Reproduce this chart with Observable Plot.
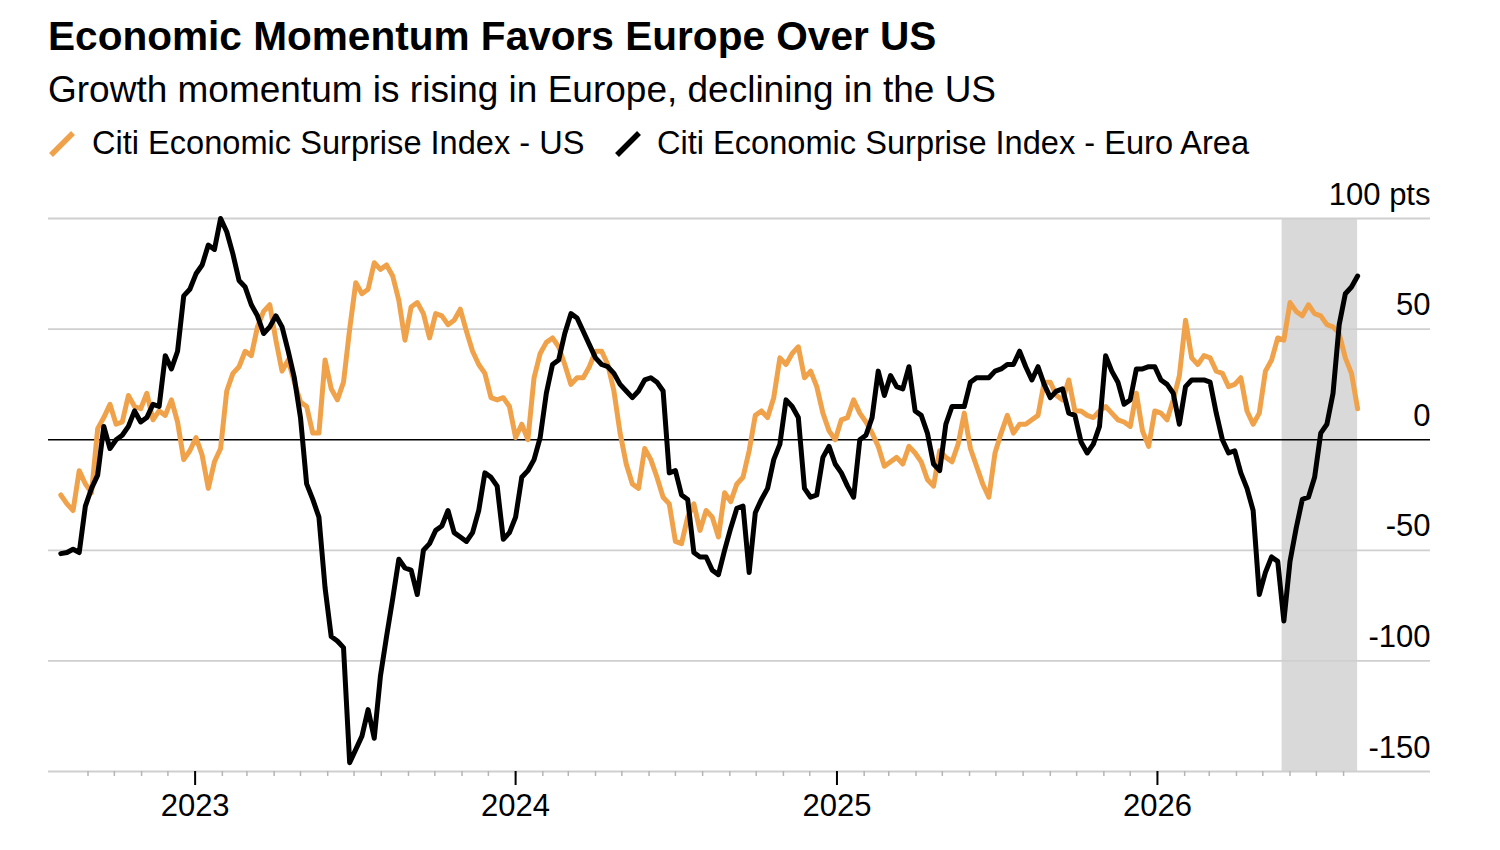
<!DOCTYPE html>
<html><head><meta charset="utf-8">
<script src="https://cdn.jsdelivr.net/npm/d3@7"></script>
<script src="https://cdn.jsdelivr.net/npm/@observablehq/plot@0.6"></script>
<style>
html,body{margin:0;padding:0;background:#fff;}
body{width:1500px;height:850px;position:relative;overflow:hidden;font-family:"Liberation Sans",Arial,Helvetica,sans-serif;color:#000;}
#title{position:absolute;left:48px;top:16px;font-size:40.6px;line-height:40px;font-weight:700;white-space:nowrap;}
#subtitle{position:absolute;left:48px;top:71px;font-size:37px;line-height:37px;white-space:nowrap;}
.leg{position:absolute;top:127px;font-size:32.6px;line-height:32.5px;white-space:nowrap;}
.sw{position:absolute;top:130px;}
#chart{position:absolute;left:0;top:170px;}
</style></head><body>
<div id="title">Economic Momentum Favors Europe Over US</div>
<div id="subtitle">Growth momentum is rising in Europe, declining in the US</div>
<svg class="sw" style="left:48px" width="28" height="28"><line x1="3" y1="25" x2="25" y2="3" stroke="#F0A24A" stroke-width="5.5"/></svg>
<div class="leg" style="left:92px">Citi Economic Surprise Index - US</div>
<svg class="sw" style="left:614px" width="28" height="28"><line x1="3" y1="25" x2="25" y2="3" stroke="#000" stroke-width="5.5"/></svg>
<div class="leg" style="left:657px">Citi Economic Surprise Index - Euro Area</div>
<div id="chart"></div>
<script>
// Weekly observations starting 2022-08-01
const startDate = "2022-08-01";
const usValues = [
 -25, -29, -32, -14, -20, -24, 5, 10, 16, 7,
 8, 20, 15, 14, 21, 9, 13, 11, 18, 8,
 -9, -5, 1, -7, -22, -10, -4, 22, 30, 33,
 40, 38, 51, 58, 61, 45, 31, 36, 26, 17,
 15, 3, 3, 36, 23, 18, 26, 50, 71, 66,
 68, 80, 77, 79, 74, 63, 45, 60, 62, 57,
 46, 57, 56, 52, 54, 59, 49, 40, 34, 30,
 19, 18, 19, 15, 1, 7, 0, 28, 39, 44,
 46, 42, 34, 25, 28, 28, 33, 40, 40, 34,
 22, 3, -11, -20, -22, -4, -9, -17, -26, -29,
 -46, -47, -35, -29, -41, -32, -35, -44, -24, -28,
 -20, -17, -5, 11, 13, 10, 19, 37, 34, 39,
 42, 28, 31, 24, 12, 4, 0, 9, 10, 18,
 12, 8, 3, -3, -12, -10, -8, -11, -3, -6,
 -10, -18, -21, -5, -8, -10, -2, 12, -4, -12,
 -20, -26, -6, 3, 11, 3, 7, 7, 9, 11,
 26, 26, 20, 18, 27, 13, 13, 11, 10, 13,
 15, 12, 9, 8, 6, 21, 4, -3, 13, 12,
 9, 18, 29, 54, 37, 34, 38, 37, 31, 30,
 24, 25, 28, 13, 7, 12, 31, 36, 46, 45,
 62, 58, 56, 61, 57, 56, 52, 51, 48, 37,
 30, 14
];
const euroValues = [
 -51.5, -51, -49.5, -51, -30, -22, -16, 6, -4, 0,
 2, 6, 13, 8, 10, 16, 15, 38, 32, 40,
 65, 68, 75, 79, 88, 86, 100, 94, 84, 72,
 69, 61, 56, 48, 51, 56, 51, 40, 28, 10,
 -20, -27, -35, -67, -89, -91, -94, -146, -140, -134,
 -122, -135, -107, -89, -72, -54, -58, -59, -70, -50,
 -47, -41, -39, -32, -42, -44, -46, -42, -32, -15,
 -17, -21, -45, -42, -35, -17, -14, -9, 1, 21,
 34, 36, 48, 57, 55, 49, 43, 37, 34, 33,
 30, 25, 22, 19, 22, 27, 28, 26, 22, -15,
 -14, -25, -27, -51, -53, -53, -59, -61, -50, -40,
 -31, -30, -60, -33, -27, -22, -9, -2, 18, 15,
 10, -22, -26, -25, -8, -3, -11, -15, -21, -26,
 0, 2, 10, 31, 20, 29, 24, 23, 33, 13,
 11, 3, -11, -14, 7, 15, 15, 15, 26, 28,
 28, 28, 31, 32, 34, 34, 40, 33, 27, 33,
 25, 19, 22, 23, 12, 11, -1, -6, -2, 6,
 38, 31, 26, 16, 18, 32, 32, 33, 33, 27,
 25, 21, 7, 24, 27, 27, 27, 26, 12, 0,
 -6, -5, -15, -22, -32, -70, -60, -53, -55, -82,
 -55, -40, -27, -26, -17, 3, 7, 21, 52, 66,
 69, 74
];
const yTicks = [-150, -100, -50, 0, 50, 100];
const yLabels = ["-150", "-100", "-50", "0", "50", "100 pts"];
const yearTicks = ["2023-01-01", "2024-01-01", "2025-01-01", "2026-01-01"];
const xDomain = ["2022-07-18", "2026-11-08"];
const shadeRange = ["2026-05-23", "2026-08-17"];
const minorTickRange = ["2022-09-01", "2026-09-01"];

const t0 = new Date(startDate + "T00:00:00Z");
const dates = usValues.map((_, i) => d3.utcDay.offset(t0, 7 * i));
const us = usValues.map((v, i) => ({date: dates[i], value: v}));
const euro = euroValues.map((v, i) => ({date: dates[i], value: v}));
const toDate = s => new Date(s + "T00:00:00Z");
const monthTicks = d3.utcMonth.range(toDate(minorTickRange[0]), toDate(minorTickRange[1]));
const shade = [{x1: toDate(shadeRange[0]), x2: toDate(shadeRange[1])}];

const chart = Plot.plot({
  width: 1500, height: 660,
  marginLeft: 48, marginRight: 70, marginTop: 48, marginBottom: 59,
  style: {fontFamily: "'Liberation Sans', Arial, sans-serif", fontSize: "31px", background: "transparent", color: "#000"},
  x: {type: "utc", domain: xDomain.map(toDate)},
  y: {domain: [-150, 100], axis: null},
  marks: [
    Plot.rect(shade, {x1: "x1", x2: "x2", y1: () => -150, y2: () => 100, fill: "#d9d9d9"}),
    Plot.ruleY(yTicks.filter(d => d !== 0), {stroke: "#cfcfcf", strokeWidth: 1.8}),
    Plot.ruleY([0], {stroke: "#000", strokeWidth: 1.6}),
    Plot.axisX({ticks: monthTicks, tickSize: 5, tickFormat: () => "", stroke: "#b5b5b5", strokeWidth: 1.5}),
    Plot.axisX({ticks: yearTicks.map(toDate), tickSize: 14, tickPadding: 8, tickFormat: "%Y", fontSize: 31, stroke: "#000", strokeWidth: 2}),
    Plot.line(us, {x: "date", y: "value", stroke: "#F0A24A", strokeWidth: 5, strokeLinejoin: "round"}),
    Plot.line(euro, {x: "date", y: "value", stroke: "#000", strokeWidth: 5, strokeLinejoin: "round"}),
    Plot.text(yTicks, {y: d => d, text: (d, i) => yLabels[i], frameAnchor: "right", textAnchor: "end", lineAnchor: "bottom", dy: -14, fontSize: 31, fill: "#000"})
  ]
});
document.getElementById("chart").appendChild(chart);
</script>
</body></html>
